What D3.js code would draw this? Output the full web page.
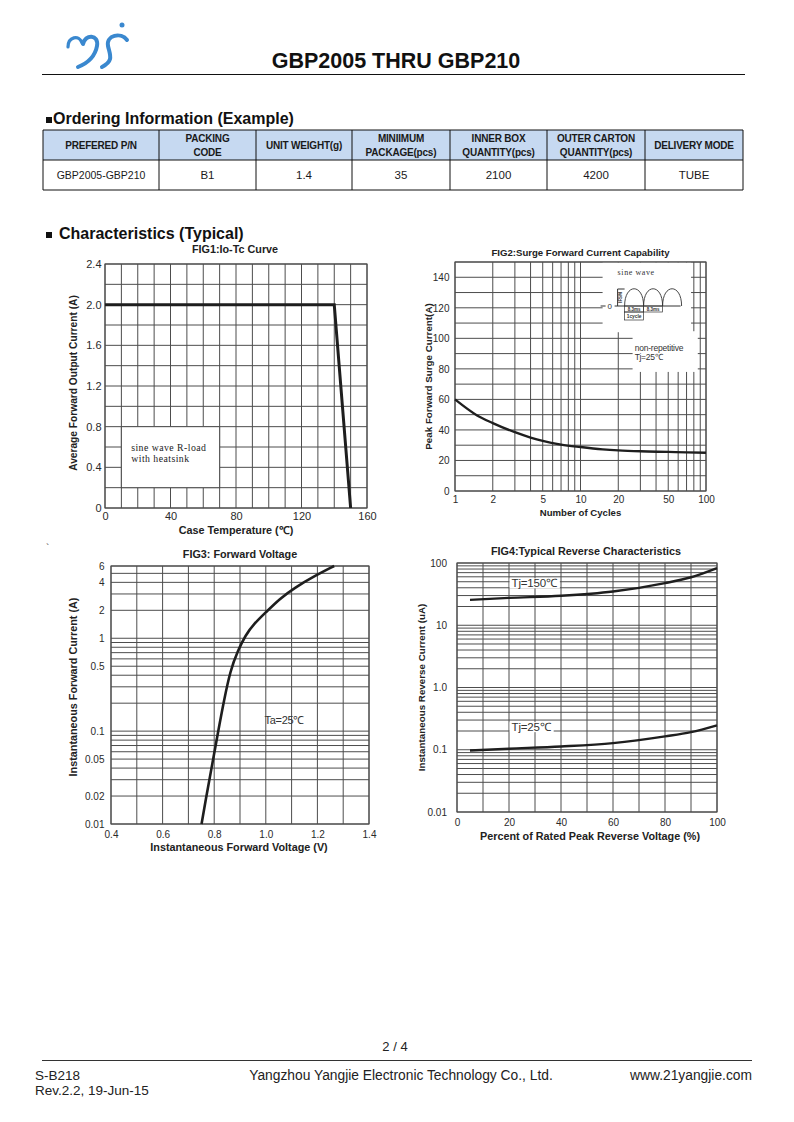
<!DOCTYPE html>
<html>
<head>
<meta charset="utf-8">
<script src="https://cdn.jsdelivr.net/npm/d3@7"></script>
<style>
  body { margin: 0; background: #fff; }
  svg text { font-family: "Liberation Sans", Arial, sans-serif; }
  svg text.serif { font-family: "Liberation Serif", "DejaVu Serif", serif; }
</style>
</head>
<body>
<div id="page"></div>
<script>
// ordering table
const orderHeaders = [["PREFERED P/N"], ["PACKING", "CODE"], ["UNIT WEIGHT(g)"], ["MINIIMUM", "PACKAGE(pcs)"],
  ["INNER BOX", "QUANTITY(pcs)"], ["OUTER CARTON", "QUANTITY(pcs)"], ["DELIVERY MODE"]]
const orderRow = ["GBP2005-GBP210", "B1", "1.4", "35", "2100", "4200", "TUBE"]

// FIG1 Io-Tc
const fig1Temp = [0, 140, 150]
const fig1Current = [2.0, 2.0, 0]
const fig1XTicks = [0, 40, 80, 120, 160]
const fig1YTicks = [0, 0.4, 0.8, 1.2, 1.6, 2.0, 2.4]

// FIG2 surge
const fig2Cycles = [1, 1.5, 2, 3, 4, 5, 7, 10, 15, 20, 30, 50, 70, 100]
const fig2Surge = [60, 49.5, 44.5, 38.5, 35, 32.8, 30.4, 28.8, 27.3, 26.6, 26, 25.6, 25.3, 25.1]
const fig2XTicks = [1, 2, 5, 10, 20, 50, 100]
const fig2YTicks = [0, 20, 40, 60, 80, 100, 120, 140]

// FIG3 forward voltage
const fig3Voltage = [0.751, 0.766, 0.792, 0.817, 0.837, 0.863, 0.890, 0.921, 0.955, 0.999, 1.054, 1.112, 1.19, 1.265]
const fig3Current = [0.01, 0.0175, 0.0434, 0.105, 0.208, 0.455, 0.716, 1.08, 1.44, 1.89, 2.67, 3.5, 4.7, 6.0]
const fig3XTicks = [0.4, 0.6, 0.8, 1.0, 1.2, 1.4]
const fig3YTicks = [0.01, 0.02, 0.05, 0.1, 0.5, 1, 2, 4, 6]

// FIG4 reverse characteristics
const fig4Percent = [5, 20, 40, 60, 80, 90, 100]
const fig4Tj150 = [25.6, 27.5, 29.7, 34.8, 47.5, 59, 83]
const fig4Tj25 = [0.0975, 0.104, 0.113, 0.128, 0.164, 0.192, 0.247]
const fig4XTicks = [0, 20, 40, 60, 80, 100]
const fig4YTicks = [0.01, 0.1, 1, 10, 100]
const fig4YLabels = ["0.01", "0.1", "1.0", "10", "100"]

const gridColor = "#4d4d4d"
const curveColor = "#1e1e1e"
const blue = "#3a88cf"

const svg = d3.select("#page").append("svg")
    .attr("width", 794)
    .attr("height", 1122)

svg.append("rect").attr("width", 794).attr("height", 1122).attr("fill", "#fff")

// ---------- header ----------
const logo = svg.append("g")
    .attr("fill", "none")
    .attr("stroke", blue)
    .attr("stroke-linecap", "round")
logo.append("path").attr("d", "M68,47 C68,37 79,34 82,43").attr("stroke-width", 3.2)
logo.append("path").attr("d", "M83,44 C85,34 99,34 97,46 C95,57 88,63 78,67").attr("stroke-width", 4)
logo.append("path").attr("d", "M127,40 C121,32 106,35 108,46 C110,55 114,61 102,67").attr("stroke-width", 4)
svg.append("circle").attr("cx", 122).attr("cy", 25).attr("r", 2.5).attr("fill", blue)

svg.append("text")
    .attr("x", 396)
    .attr("y", 68)
    .attr("text-anchor", "middle")
    .attr("font-size", "21.5px")
    .attr("font-weight", "bold")
    .attr("fill", "#111")
    .text("GBP2005 THRU GBP210")

svg.append("line")
    .attr("x1", 42).attr("x2", 745).attr("y1", 74.5).attr("y2", 74.5)
    .attr("stroke", "#111").attr("stroke-width", 1.2)

// section headings
function heading(y, label, gap) {
    svg.append("rect").attr("x", 46).attr("y", y - 7).attr("width", 6).attr("height", 6).attr("fill", "#111")
    svg.append("text")
        .attr("x", 52 + gap)
        .attr("y", y)
        .attr("font-size", "16px")
        .attr("font-weight", "bold")
        .attr("fill", "#111")
        .text(label)
}
heading(124, "Ordering Information (Example)", 1)
heading(239, "Characteristics (Typical)", 7)

// ---------- ordering table ----------
const colEdges = [43, 159, 256, 352, 450, 547, 645, 743]
const tTop = 130, tMid = 160, tBottom = 190

svg.append("rect")
    .attr("x", colEdges[0]).attr("y", tTop)
    .attr("width", colEdges[7] - colEdges[0]).attr("height", tMid - tTop)
    .attr("fill", "#c6d9f1")

const tbl = svg.append("g").attr("stroke", "#111").attr("stroke-width", 1)
tbl.selectAll("line.v").data(colEdges).join("line")
    .attr("x1", d => d).attr("x2", d => d).attr("y1", tTop).attr("y2", tBottom)
tbl.selectAll("line.h").data([tTop, tMid, tBottom]).join("line")
    .attr("x1", colEdges[0]).attr("x2", colEdges[7]).attr("y1", d => d).attr("y2", d => d)

orderHeaders.forEach(function(lines, i) {
    const cx = (colEdges[i] + colEdges[i + 1]) / 2
    lines.forEach(function(l, j) {
        const y = lines.length == 1 ? 149 : 141.5 + j * 14.5
        svg.append("text")
            .attr("x", cx).attr("y", y)
            .attr("text-anchor", "middle")
            .attr("font-size", "10px")
            .attr("font-weight", "bold")
            .attr("letter-spacing", "-0.2px")
            .attr("fill", "#1a1a1a")
            .text(l)
    })
})
orderRow.forEach(function(v, i) {
    svg.append("text")
        .attr("x", (colEdges[i] + colEdges[i + 1]) / 2).attr("y", 179)
        .attr("text-anchor", "middle")
        .attr("font-size", i == 0 ? "10.5px" : "11.5px")
        .attr("fill", "#1a1a1a")
        .text(v)
})

// ---------- chart panels ----------
function makePanel(p) {
    const g = svg.append("g").attr("transform", "translate(" + p.left + "," + p.top + ")")

    g.append("g").selectAll("line").data(p.xGrid).join("line")
        .attr("x1", d => p.x(d)).attr("x2", d => p.x(d))
        .attr("y1", 0).attr("y2", p.height)
        .attr("stroke", gridColor).attr("stroke-width", 1)
    g.append("g").selectAll("line").data(p.yGrid).join("line")
        .attr("y1", d => p.y(d)).attr("y2", d => p.y(d))
        .attr("x1", 0).attr("x2", p.width)
        .attr("stroke", gridColor).attr("stroke-width", 1)

    const xAxis = g.append("g")
        .attr("transform", "translate(0," + p.height + ")")
        .call(d3.axisBottom(p.x).tickValues(p.xTicks).tickFormat(p.xFmt).tickSize(0).tickPadding(p.xPad))
    xAxis.select(".domain").remove()
    xAxis.attr("font-family", null).attr("font-size", p.tickFont)
    xAxis.selectAll("text").attr("fill", "#2a2a2a")

    const yAxis = g.append("g")
        .call(d3.axisLeft(p.y).tickValues(p.yTicks).tickFormat(p.yFmt).tickSize(0).tickPadding(p.yPad))
    yAxis.select(".domain").remove()
    yAxis.attr("font-family", null).attr("font-size", p.tickFont)
    yAxis.selectAll("text").attr("fill", "#2a2a2a")

    svg.append("text")
        .attr("x", p.left + p.width / 2 + (p.titleDx || 0))
        .attr("y", p.titleY)
        .attr("text-anchor", "middle")
        .attr("font-size", p.titleFont)
        .attr("font-weight", "bold")
        .attr("fill", "#222")
        .text(p.title)
    svg.append("text")
        .attr("x", p.left + p.width / 2 + (p.xTitleDx || 0))
        .attr("y", p.xTitleY)
        .attr("text-anchor", "middle")
        .attr("font-size", p.xTitleFont)
        .attr("font-weight", "bold")
        .attr("fill", "#222")
        .text(p.xTitle)
    svg.append("text")
        .attr("transform", "translate(" + p.yTitleX + "," + (p.top + p.height / 2 + (p.yTitleDy || 0)) + ") rotate(-90)")
        .attr("dy", "0.36em")
        .attr("text-anchor", "middle")
        .attr("font-size", p.yTitleFont)
        .attr("font-weight", "bold")
        .attr("fill", "#222")
        .text(p.yTitle)
    return g
}

function border(g, p) {
    g.append("rect")
        .attr("width", p.width).attr("height", p.height)
        .attr("fill", "none").attr("stroke", gridColor).attr("stroke-width", 1.1)
}

// FIG1
const p1 = { left: 105, top: 264, width: 262, height: 244 }
p1.x = d3.scaleLinear().domain([0, 160]).range([0, p1.width])
p1.y = d3.scaleLinear().domain([0, 2.4]).range([p1.height, 0])
Object.assign(p1, {
    xGrid: d3.range(0, 161, 10), yGrid: d3.range(0, 2.41, 0.2),
    xTicks: fig1XTicks, yTicks: fig1YTicks,
    xFmt: d => d, yFmt: d => d == 0 ? "0" : d3.format(".1f")(d),
    xPad: 4.5, yPad: 3.5, tickFont: "11px",
    title: "FIG1:Io-Tc Curve", titleY: 253, titleDx: -1, titleFont: "10.8px",
    xTitle: "Case Temperature (\u2103)", xTitleY: 534, xTitleFont: "10.8px",
    yTitle: "Average Forward Output Current (A)", yTitleX: 73, yTitleFont: "10.2px", yTitleDy: -3
})
const g1 = makePanel(p1)
g1.append("rect")
    .attr("x", p1.x(10)).attr("y", p1.y(0.8))
    .attr("width", p1.x(70) - p1.x(10)).attr("height", p1.y(0.2) - p1.y(0.8))
    .attr("fill", "#fff").attr("stroke", gridColor).attr("stroke-width", 1)
g1.append("text").attr("class", "serif").attr("x", p1.x(16)).attr("y", p1.y(0.56))
    .attr("font-size", "9.8px").attr("fill", "#222").attr("letter-spacing", "0.45px")
    .text("sine wave R-load")
g1.append("text").attr("class", "serif").attr("x", p1.x(16)).attr("y", p1.y(0.45))
    .attr("font-size", "9.8px").attr("fill", "#222").attr("letter-spacing", "0.45px")
    .text("with heatsink")
border(g1, p1)
g1.append("path")
    .datum(fig1Temp.map((t, i) => [t, fig1Current[i]]))
    .attr("d", d3.line().x(d => p1.x(d[0])).y(d => p1.y(d[1])))
    .attr("fill", "none").attr("stroke", curveColor).attr("stroke-width", 3)

// FIG2
const p2 = { left: 455, top: 262, width: 251, height: 229 }
p2.x = d3.scaleLog().domain([1, 100]).range([0, p2.width])
p2.y = d3.scaleLinear().domain([0, 150]).range([p2.height, 0])
Object.assign(p2, {
    xGrid: d3.range(1, 10).concat(d3.range(10, 101, 10)), yGrid: d3.range(0, 151, 10),
    xTicks: fig2XTicks, yTicks: fig2YTicks,
    xFmt: d => d, yFmt: d => d,
    xPad: 4.8, yPad: 5.5, tickFont: "10px",
    title: "FIG2:Surge Forward Current Capability", titleY: 256, titleFont: "9.6px",
    xTitle: "Number of Cycles", xTitleY: 515.5, xTitleFont: "9.6px",
    yTitle: "Peak Forward Surge Current(A)", yTitleX: 428, yTitleFont: "9.8px"
})
const g2 = makePanel(p2)
// inset boxes
g2.append("rect")
    .attr("x", p2.x(15)).attr("y", 0.5)
    .attr("width", p2.x(76) - p2.x(15)).attr("height", p2.y(104) - 0.5)
    .attr("fill", "#fff")
g2.append("rect")
    .attr("x", p2.x(26)).attr("y", p2.y(104) - 1)
    .attr("width", p2.x(86) - p2.x(26)).attr("height", p2.y(78) - p2.y(104) + 1)
    .attr("fill", "#fff")
const inset = g2.append("g").attr("transform", "translate(" + p2.x(15) + ",0)")
inset.append("text").attr("class", "serif").attr("x", 15).attr("y", 13)
    .attr("font-size", "8px").attr("fill", "#333").attr("letter-spacing", "0.6px")
    .text("sine wave")
inset.append("line").attr("x1", 12).attr("x2", 78).attr("y1", 44).attr("y2", 44).attr("stroke", "#333")
inset.append("line").attr("x1", -2).attr("x2", 3).attr("y1", 44).attr("y2", 44).attr("stroke", "#333")
inset.append("text").attr("x", 5).attr("y", 47).attr("font-size", "8px").attr("fill", "#333").text("0")
inset.append("path").attr("d", "M15,27 L15,44 M15,27 L22,27").attr("stroke", "#333").attr("fill", "none")
inset.append("text").attr("transform", "translate(19,35.5) rotate(-90)")
    .attr("text-anchor", "middle").attr("font-size", "4.5px").attr("font-weight", "bold").attr("fill", "#333").text("IFSM")
inset.selectAll("path.arch").data([0, 1, 2]).join("path")
    .attr("d", i => "M" + (22 + i * 19) + ",44 C" + (22 + i * 19) + ",21 " + (41 + i * 19) + ",21 " + (41 + i * 19) + ",44")
    .attr("fill", "none").attr("stroke", "#333").attr("stroke-width", 0.9)
inset.selectAll("rect.ms").data([0, 1]).join("rect")
    .attr("x", i => 22 + i * 19).attr("y", 44).attr("width", 19).attr("height", 6)
    .attr("fill", "none").attr("stroke", "#333").attr("stroke-width", 0.7)
inset.selectAll("text.ms").data([0, 1]).join("text")
    .attr("x", i => 31.5 + i * 19).attr("y", 49)
    .attr("text-anchor", "middle").attr("font-size", "4.5px").attr("font-weight", "bold").attr("fill", "#333")
    .text("8.3ms")
inset.append("rect").attr("x", 22).attr("y", 50).attr("width", 19).attr("height", 8)
    .attr("fill", "none").attr("stroke", "#333").attr("stroke-width", 0.7)
inset.append("text").attr("x", 31.5).attr("y", 56)
    .attr("text-anchor", "middle").attr("font-size", "4.8px").attr("font-weight", "bold").attr("fill", "#333")
    .text("1cycle")
g2.append("text").attr("x", p2.x(27)).attr("y", p2.y(92))
    .attr("font-size", "8.5px").attr("fill", "#333").attr("letter-spacing", "-0.2px").text("non-repetitive")
g2.append("text").attr("x", p2.x(27)).attr("y", p2.y(85.5))
    .attr("font-size", "8.5px").attr("fill", "#333").attr("letter-spacing", "-0.3px").text("Tj=25\u2103")
border(g2, p2)
g2.append("path")
    .datum(fig2Cycles.map((c, i) => [c, fig2Surge[i]]))
    .attr("d", d3.line().curve(d3.curveMonotoneX).x(d => p2.x(d[0])).y(d => p2.y(d[1])))
    .attr("fill", "none").attr("stroke", curveColor).attr("stroke-width", 2.4)

// FIG3
const p3 = { left: 111, top: 566, width: 258, height: 258 }
p3.x = d3.scaleLinear().domain([0.4, 1.4]).range([0, p3.width])
p3.y = d3.scaleLog().domain([0.01, 6]).range([p3.height, 0])
Object.assign(p3, {
    xGrid: d3.range(0, 11).map(i => 0.4 + i * 0.1),
    yGrid: d3.range(1, 10).map(k => k * 0.01).concat(d3.range(1, 10).map(k => k * 0.1), [1, 2, 3, 4, 5, 6]),
    xTicks: fig3XTicks, yTicks: fig3YTicks,
    xFmt: d3.format(".1f"), yFmt: d => d,
    xPad: 7, yPad: 6.5, tickFont: "10px",
    title: "FIG3: Forward Voltage", titleY: 558, titleFont: "10.8px",
    xTitle: "Instantaneous Forward Voltage (V)", xTitleY: 850.5, xTitleDx: -1, xTitleFont: "10.8px",
    yTitle: "Instantaneous Forward Current (A)", yTitleX: 73, yTitleFont: "10.8px", yTitleDy: -8
})
const g3 = makePanel(p3)
border(g3, p3)
g3.append("text").attr("x", p3.x(0.995)).attr("y", p3.y(0.1) - 7)
    .attr("font-size", "11px").attr("fill", "#333").attr("letter-spacing", "-0.3px").text("Ta=25\u2103")
g3.append("path")
    .datum(fig3Voltage.map((v, i) => [v, fig3Current[i]]))
    .attr("d", d3.line().curve(d3.curveBasis).x(d => p3.x(d[0])).y(d => p3.y(d[1])))
    .attr("fill", "none").attr("stroke", curveColor).attr("stroke-width", 2.6)

// FIG4
const p4 = { left: 457, top: 563, width: 260, height: 249 }
p4.x = d3.scaleLinear().domain([0, 100]).range([0, p4.width])
p4.y = d3.scaleLog().domain([0.01, 100]).range([p4.height, 0])
let fig4Grid = []
;[0.01, 0.1, 1, 10].forEach(function(e) { d3.range(1, 10).forEach(k => fig4Grid.push(k * e)) })
fig4Grid.push(100)
Object.assign(p4, {
    xGrid: d3.range(0, 101, 10), yGrid: fig4Grid,
    xTicks: fig4XTicks, yTicks: fig4YTicks,
    xFmt: d => d, yFmt: (d, i) => fig4YLabels[i],
    xPad: 7, yPad: 10, tickFont: "10px",
    title: "FIG4:Typical Reverse Characteristics", titleY: 554.5, titleDx: -1, titleFont: "10.8px",
    xTitle: "Percent of Rated Peak Reverse Voltage  (%)", xTitleY: 839.5, xTitleDx: 3, xTitleFont: "10.8px",
    yTitle: "Instantaneous Reverse Current (uA)", yTitleX: 421, yTitleFont: "9.8px"
})
const g4 = makePanel(p4)
border(g4, p4)
const fig4Labels = [["Tj=150\u2103", 48], ["Tj=25\u2103", 0.235]]
fig4Labels.forEach(function(l) {
    const lg = g4.append("g")
    const bg = lg.append("rect").attr("fill", "#fff")
    const t = lg.append("text").attr("x", p4.x(21)).attr("y", p4.y(l[1]) + 4)
        .attr("font-size", "11.5px").attr("fill", "#333").attr("letter-spacing", "-0.2px").text(l[0])
    const b = t.node().getBBox()
    bg.attr("x", b.x - 2).attr("y", b.y + 1.5).attr("width", b.width + 4).attr("height", b.height - 2)
})
const lineGen4 = d3.line().curve(d3.curveMonotoneX).x(d => p4.x(d[0])).y(d => p4.y(d[1]))
g4.append("path")
    .datum(fig4Percent.map((v, i) => [v, fig4Tj150[i]]))
    .attr("d", lineGen4)
    .attr("fill", "none").attr("stroke", curveColor).attr("stroke-width", 2.4)
g4.append("path")
    .datum(fig4Percent.map((v, i) => [v, fig4Tj25[i]]))
    .attr("d", lineGen4)
    .attr("fill", "none").attr("stroke", curveColor).attr("stroke-width", 2.4)

svg.append("text").attr("x", 46).attr("y", 552).attr("font-size", "10px").attr("fill", "#444").text("`")

// ---------- footer ----------
svg.append("text").attr("x", 395).attr("y", 1051).attr("text-anchor", "middle")
    .attr("font-size", "13px").attr("fill", "#222").text("2 / 4")
svg.append("line")
    .attr("x1", 42).attr("x2", 752).attr("y1", 1060.5).attr("y2", 1060.5)
    .attr("stroke", "#333").attr("stroke-width", 1)
svg.append("text").attr("x", 35).attr("y", 1080).attr("font-size", "13.5px").attr("fill", "#222").text("S-B218")
svg.append("text").attr("x", 35).attr("y", 1095).attr("font-size", "13.5px").attr("fill", "#222").text("Rev.2.2, 19-Jun-15")
svg.append("text").attr("x", 401).attr("y", 1080).attr("text-anchor", "middle")
    .attr("font-size", "13.8px").attr("fill", "#222").text("Yangzhou Yangjie Electronic Technology Co., Ltd.")
svg.append("text").attr("x", 752).attr("y", 1080).attr("text-anchor", "end")
    .attr("font-size", "13.8px").attr("fill", "#222").text("www.21yangjie.com")
</script>
</body>
</html>
